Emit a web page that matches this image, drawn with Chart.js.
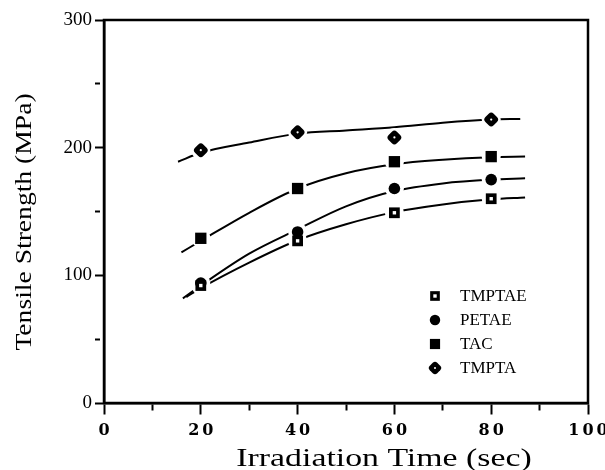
<!DOCTYPE html>
<html>
<head>
<meta charset="utf-8">
<script src="https://cdn.jsdelivr.net/npm/chart.js@4.4.1/dist/chart.umd.min.js"></script>
<style>
  html, body { margin: 0; padding: 0; background: #fff; }
  #wrap { width: 605px; height: 470px; }
</style>
</head>
<body>
<div id="wrap"><canvas id="chart"></canvas></div>
<script>
// ----------------------
// Data
// ----------------------
const times = [20, 40, 60, 80];
const seriesNames = ['TMPTAE', 'PETAE', 'TAC', 'TMPTA'];
const tmptae = [92, 127, 149, 160];
const petae = [94, 134, 168, 175];
const tac = [129, 168, 189, 193];
const tmpta = [198, 212, 208, 222];

// fitted curves as drawn in the figure
const tmptaeFitX = [17, 20, 30, 40, 50, 60, 70, 80, 87];
const tmptaeFit = [83, 90, 110, 127.5, 140, 149.5, 155.5, 159.5, 161];
const petaeFitX = [16.3, 20, 30, 40, 50, 60, 70, 80, 87];
const petaeFit = [82, 92, 117, 136, 154, 166, 172, 175, 176];
const tacFitX = [16, 20, 30, 40, 50, 60, 70, 80, 87];
const tacFit = [118, 127, 149, 168, 180, 187, 190.5, 192.5, 193];
const tmptaFitX = [15.3, 20, 30, 40, 50, 60, 70, 80, 86];
const tmptaFit = [189, 196, 204, 211, 213.5, 216, 219.5, 222, 222.5];

const xTicks = [0, 20, 40, 60, 80, 100];
const yTicks = [0, 100, 200, 300];
const xTitle = 'Irradiation Time (sec)';
const yTitle = 'Tensile Strength (MPa)';

const SERIF = '"Liberation Serif", "Times New Roman", serif';

function pts(xs, ys) {
  return xs.map((x, i) => ({ x: x, y: ys[i] }));
}

// ----------------------
// Datasets
// ----------------------
const fits = [[tmptaeFitX, tmptaeFit], [petaeFitX, petaeFit], [tacFitX, tacFit], [tmptaFitX, tmptaFit]];
const values = [tmptae, petae, tac, tmpta];

const symbols = [
  { pointStyle: 'rect', radius: 7.6, rotation: 0 },
  { pointStyle: 'circle', radius: 5.8, rotation: 0 },
  { pointStyle: 'rect', radius: 8, rotation: 0 },
  { pointStyle: 'rectRounded', radius: 6.8, rotation: 45 }
];

const datasets = [];

fits.forEach((f, i) => {
  datasets.push({
    label: seriesNames[i] + ' fit',
    data: pts(f[0], f[1]),
    showLine: true,
    borderColor: '#000',
    borderWidth: 2,
    pointRadius: 0,
    cubicInterpolationMode: 'monotone',
    order: 3
  });
});

// white halo so the curve breaks around each symbol
values.forEach((v, i) => {
  datasets.push({
    label: seriesNames[i] + ' halo',
    data: pts(times, v),
    showLine: false,
    pointStyle: 'circle',
    pointRadius: 9.5,
    pointBackgroundColor: '#fff',
    pointBorderWidth: 0,
    order: 2
  });
});

values.forEach((v, i) => {
  datasets.push({
    label: seriesNames[i],
    data: pts(times, v),
    showLine: false,
    pointStyle: symbols[i].pointStyle,
    pointRadius: symbols[i].radius,
    pointRotation: symbols[i].rotation,
    pointBackgroundColor: '#000',
    pointBorderWidth: 0,
    order: 1
  });
});

// small white centres of the TMPTAE and TMPTA symbols
datasets.push({
  label: 'TMPTAE centre',
  data: pts(times, tmptae),
  showLine: false,
  pointStyle: 'rect',
  pointRadius: 2.4,
  pointBackgroundColor: '#fff',
  pointBorderWidth: 0,
  order: 0
});
datasets.push({
  label: 'TMPTA centre',
  data: pts(times, tmpta),
  showLine: false,
  pointStyle: 'circle',
  pointRadius: 1.1,
  pointBackgroundColor: '#fff',
  pointBorderWidth: 0,
  order: 0
});

// ----------------------
// Plugins: frame, titles, legend
// ----------------------
const figurePlugin = {
  id: 'figure',
  beforeDraw(chart) {
    // a little extra spacing on the x tick digits
    const sx = chart.scales.x;
    if (!sx._spaced) {
      const orig = sx.drawLabels;
      sx.drawLabels = function (area) {
        const c = this.ctx;
        c.save();
        c.letterSpacing = '3px';
        orig.call(this, area);
        c.restore();
      };
      sx._spaced = true;
    }
  },
  afterDraw(chart) {
    const ctx = chart.ctx;
    const a = chart.chartArea;
    ctx.save();

    // box
    ctx.strokeStyle = '#000';
    ctx.lineWidth = 2.5;
    ctx.strokeRect(a.left, a.top, a.right - a.left, a.bottom - a.top);

    // axis titles (the scan is stretched along the text)
    ctx.fillStyle = '#000';
    ctx.textAlign = 'center';
    ctx.textBaseline = 'alphabetic';

    ctx.save();
    ctx.translate(384, 466);
    ctx.scale(1.3, 1);
    ctx.font = '26px ' + SERIF;
    ctx.fillText(xTitle, 0, 0);
    ctx.restore();

    ctx.save();
    ctx.translate(31, 222);
    ctx.rotate(-Math.PI / 2);
    ctx.scale(1.2, 1);
    ctx.font = '23px ' + SERIF;
    ctx.fillText(yTitle, 0, 0);
    ctx.restore();

    // legend
    ctx.font = '17px ' + SERIF;
    ctx.textAlign = 'left';
    ctx.textBaseline = 'middle';
    const lx = 435, ly = 296, step = 24;
    seriesNames.forEach((name, i) => {
      const y = ly + i * step;
      const s = symbols[i];
      ctx.fillStyle = '#000';
      Chart.helpers.drawPoint(ctx, { pointStyle: s.pointStyle, radius: s.radius * 0.9, rotation: s.rotation, borderWidth: 0 }, lx, y);
      if (i === 0) {
        ctx.fillStyle = '#fff';
        Chart.helpers.drawPoint(ctx, { pointStyle: 'rect', radius: 2.4, rotation: 0, borderWidth: 0 }, lx, y);
      }
      if (i === 3) {
        ctx.fillStyle = '#fff';
        Chart.helpers.drawPoint(ctx, { pointStyle: 'circle', radius: 1, rotation: 0, borderWidth: 0 }, lx, y);
      }
      ctx.fillStyle = '#000';
      ctx.fillText(name, 460, y + 1);
    });
    ctx.restore();
  }
};

// ----------------------
// Chart
// ----------------------
new Chart(document.getElementById('chart'), {
  type: 'scatter',
  data: { datasets: datasets },
  options: {
    responsive: true,
    maintainAspectRatio: false,
    animation: false,
    layout: { padding: { left: 0, top: 20, right: 17, bottom: 0 } },
    plugins: { legend: { display: false }, tooltip: { enabled: false } },
    scales: {
      x: {
        type: 'linear',
        min: 0,
        max: 100,
        afterFit(s) { s.height = 67; },
        border: { color: '#000', width: 2.5 },
        grid: {
          drawOnChartArea: false,
          // long tick slot with a dash pattern: the visible tick is short,
          // the rest of the slot spaces the labels (ticks.padding would widen the margin)
          tickLength: 18,
          tickWidth: 2,
          tickColor: '#000',
          tickBorderDash: c => (xTicks.includes(c.tick.value) ? [10, 100] : [6, 100])
        },
        ticks: {
          stepSize: 10,
          autoSkip: false,
          maxRotation: 0,
          padding: 0,
          labelOffset: 1.5,
          color: '#000',
          font: { family: '"DejaVu Serif", serif', size: 16, weight: 'bold' },
          callback: v => (xTicks.includes(v) ? String(v) : '')
        }
      },
      y: {
        min: 0,
        max: 300,
        afterFit(s) { s.width = 104; },
        border: { color: '#000', width: 2.5 },
        grid: {
          drawOnChartArea: false,
          tickLength: 9,
          tickWidth: 2,
          tickColor: '#000',
          tickBorderDash: c => (yTicks.includes(c.tick.value) ? [] : [5, 100])
        },
        ticks: {
          stepSize: 50,
          autoSkip: false,
          padding: 3,
          color: '#000',
          font: { family: SERIF, size: 19 },
          callback: v => (yTicks.includes(v) ? String(v) : '')
        }
      }
    }
  },
  plugins: [figurePlugin]
});
</script>
</body>
</html>
